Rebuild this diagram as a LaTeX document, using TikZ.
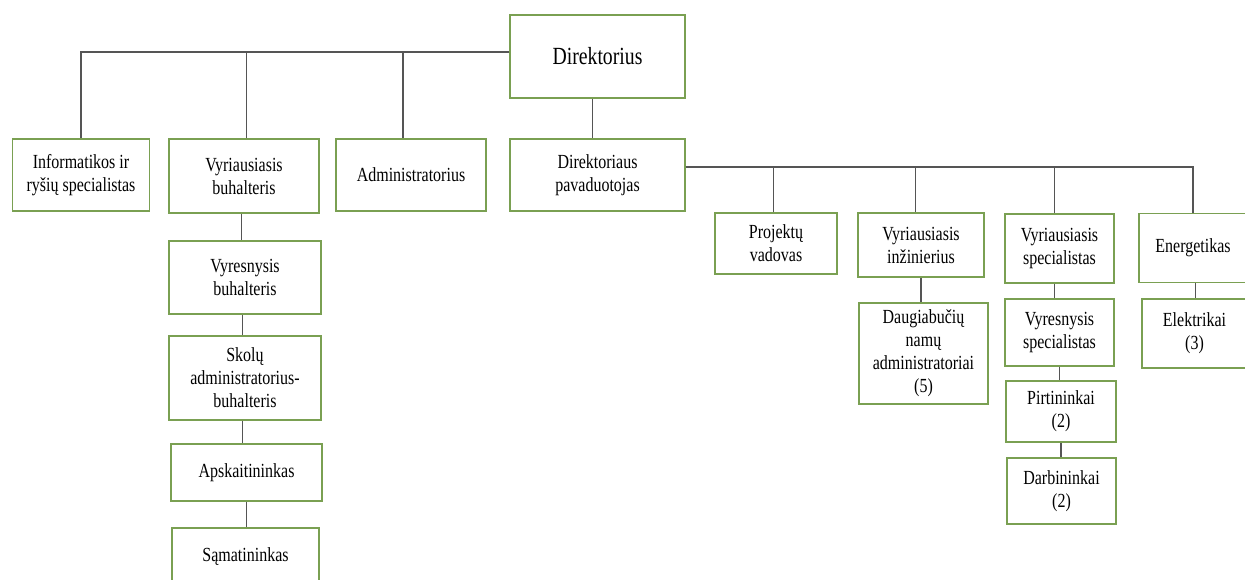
\documentclass[tikz,border=0pt]{standalone}
\usepackage{fontspec}
\setmainfont{Liberation Serif}[FakeStretch=0.8]
\definecolor{boxgreen}{RGB}{122,160,82}
\definecolor{linkgray}{RGB}{85,85,85}
\tikzset{
  box/.style={draw=boxgreen, line width=1.4pt, fill=white, align=center, inner sep=2pt, font=\fontsize{15}{17.25}\selectfont},
  link/.style={draw=linkgray, line width=0.8pt}
}
\begin{document}
\begin{tikzpicture}[x=0.75pt,y=-0.75pt]
\clip (0,0) rectangle (1245,579);
\fill[white] (0,0) rectangle (1245,579);
\useasboundingbox (0,0) rectangle (1245,579);
% top level
\node[box, minimum width=131pt, minimum height=62pt, font=\fontsize{18.5}{21}\selectfont] (dir) at (597.5,56.5) {Direktorius};
\node[box, minimum width=102.75pt, minimum height=54pt] (inf) at (81,175) {Informatikos ir\\ryšių specialistas};
\node[box, minimum width=112.5pt, minimum height=55.5pt] (vbuh) at (244,176) {Vyriausiasis\\buhalteris};
\node[box, minimum width=112.5pt, minimum height=54pt] (adm) at (411,175) {Administratorius};
\node[box, minimum width=131pt, minimum height=54pt] (pav) at (597.5,175) {Direktoriaus\\pavaduotojas};
% accounting column
\node[box, minimum width=114pt, minimum height=54.75pt] (vrbuh) at (245,277.5) {Vyresnysis\\buhalteris};
\node[box, minimum width=114pt, minimum height=63pt] (skol) at (245,378) {Skolų\\administratorius-\\buhalteris};
\node[box, minimum width=113.25pt, minimum height=42.75pt] (apsk) at (246.5,472.5) {Apskaitininkas};
\node[box, minimum width=110.25pt, minimum height=42.75pt] (sam) at (245.5,556.5) {Sąmatininkas};
% deputy branch
\node[box, minimum width=91.5pt, minimum height=45.75pt] (proj) at (776,243.5) {Projektų\\vadovas};
\node[box, minimum width=94.5pt, minimum height=48pt] (vinz) at (921,245) {Vyriausiasis\\inžinierius};
\node[box, minimum width=81.75pt, minimum height=51.75pt] (vspec) at (1059.5,248.5) {Vyriausiasis\\specialistas};
\node[box, minimum width=81pt, minimum height=51.75pt] (energ) at (1193,248) {Energetikas};
\node[box, minimum width=96.75pt, minimum height=75.75pt] (daug) at (923.5,353.5) {Daugiabučių\\namų\\administratoriai\\(5)};
\node[box, minimum width=81.75pt, minimum height=50.25pt] (vrspec) at (1059.5,332.5) {Vyresnysis\\specialistas};
\node[box, minimum width=78.75pt, minimum height=51.75pt] (elek) at (1194.5,333.5) {Elektrikai\\(3)};
\node[box, minimum width=82.5pt, minimum height=45.75pt] (pirt) at (1061,411.5) {Pirtininkai\\(2)};
\node[box, minimum width=81.75pt, minimum height=49.5pt] (darb) at (1061.5,491) {Darbininkai\\(2)};
% connectors
\draw[link] ([yshift=3.4pt]dir.west) -| (inf.north);
\draw[link] ([yshift=3.4pt]dir.west) -| ([xshift=2pt]vbuh.north);
\draw[link] ([yshift=3.4pt]dir.west) -| ([xshift=-6pt]adm.north);
\draw[link] ([xshift=-4pt]dir.south) -- ([xshift=-4pt]pav.north);
\draw[link] ([yshift=6pt]pav.east) -| ([xshift=-2pt]proj.north);
\draw[link] ([yshift=6pt]pav.east) -| ([xshift=-4pt]vinz.north);
\draw[link] ([yshift=6pt]pav.east) -| ([xshift=-4pt]vspec.north);
\draw[link] ([yshift=6pt]pav.east) -| (energ.north);
\draw[link] ([xshift=-2pt]vbuh.south) -- ([xshift=-2pt]vbuh.south |- vrbuh.north);
\draw[link] ([xshift=-2pt]vrbuh.south) -- ([xshift=-2pt]vrbuh.south |- skol.north);
\draw[link] ([xshift=-2pt]skol.south) -- ([xshift=-2pt]skol.south |- apsk.north);
\draw[link] (apsk.south) -- (apsk.south |- sam.north);
\draw[link] (vinz.south) -- (vinz.south |- daug.north);
\draw[link] ([xshift=-4pt]vspec.south) -- ([xshift=-4pt]vspec.south |- vrspec.north);
\draw[link] (vrspec.south) -- (vrspec.south |- pirt.north);
\draw[link] (pirt.south) -- (pirt.south |- darb.north);
\draw[link] ([xshift=2pt]energ.south) -- ([xshift=2pt]energ.south |- elek.north);
\end{tikzpicture}
\end{document}
